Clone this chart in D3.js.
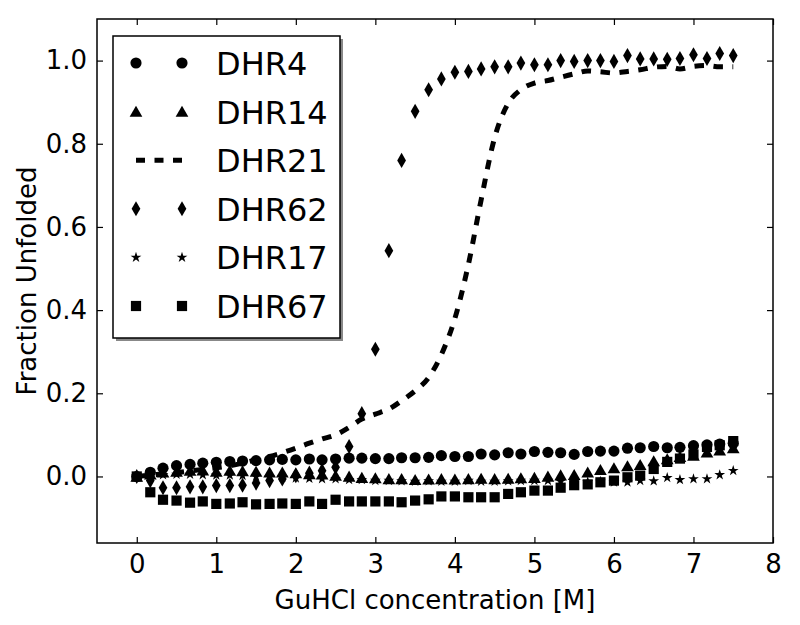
<!DOCTYPE html>
<html><head><meta charset="utf-8">
<script src="https://cdn.jsdelivr.net/npm/d3@7"></script>
<style>body{margin:0;background:#fff;} text{font-family:"DejaVu Sans",sans-serif;}</style>
</head><body>
<svg id="c" width="800" height="625"></svg>
<script>
const conc = [0,0.17,0.33,0.5,0.67,0.83,1,1.17,1.33,1.5,1.67,1.83,2,2.17,2.33,2.5,2.67,2.83,3,3.17,3.33,3.5,3.67,3.83,4,4.17,4.33,4.5,4.67,4.83,5,5.17,5.33,5.5,5.67,5.83,6,6.17,6.33,6.5,6.67,6.83,7,7.17,7.33,7.5];
const dhr4 = [0,0.01,0.02,0.026,0.029,0.032,0.034,0.036,0.037,0.038,0.04,0.041,0.04,0.042,0.04,0.042,0.044,0.044,0.043,0.043,0.045,0.045,0.046,0.05,0.048,0.048,0.054,0.052,0.057,0.054,0.06,0.058,0.057,0.053,0.06,0.061,0.061,0.068,0.069,0.072,0.069,0.07,0.074,0.076,0.078,0.08];
const dhr14 = [0,0.005,0.01,0.012,0.014,0.015,0.012,0.014,0.013,0.012,0.01,0.01,0.008,0.006,0.005,0.002,0,-0.003,-0.004,-0.006,-0.006,-0.008,-0.007,-0.006,-0.007,-0.006,-0.005,-0.006,-0.005,-0.004,-0.003,0,0.003,0.004,0.01,0.016,0.02,0.025,0.028,0.037,0.042,0.047,0.05,0.058,0.063,0.068];
const dhr21 = [0,0.003,0.006,0.009,0.013,0.017,0.021,0.026,0.032,0.04,0.048,0.057,0.068,0.08,0.09,0.1,0.118,0.138,0.15,0.162,0.182,0.206,0.238,0.293,0.38,0.51,0.665,0.815,0.897,0.93,0.946,0.952,0.96,0.968,0.975,0.973,0.97,0.974,0.978,0.984,0.986,0.98,0.986,0.988,0.985,0.985];
const dhr62 = [0,-0.01,-0.027,-0.027,-0.025,-0.025,-0.022,-0.022,-0.021,-0.016,-0.01,-0.006,0.002,0.008,0.014,0.022,0.072,0.151,0.306,0.543,0.76,0.878,0.93,0.956,0.972,0.974,0.98,0.985,0.985,0.994,0.99,0.99,1.0,0.998,1.0,1.0,0.998,1.012,1.004,1.004,1.003,1.005,1.014,1.005,1.017,1.012];
const dhr17 = [0,0.002,0.004,0.005,0.005,0.004,0.003,0.003,0.002,0,-0.001,-0.002,-0.004,-0.005,-0.006,-0.006,-0.008,-0.008,-0.01,-0.01,-0.011,-0.012,-0.011,-0.012,-0.012,-0.01,-0.012,-0.012,-0.011,-0.01,-0.01,-0.01,-0.012,-0.012,-0.013,-0.012,-0.014,-0.014,-0.01,-0.011,-0.003,-0.008,-0.006,-0.006,0.004,0.014];
const dhr67 = [0,-0.038,-0.056,-0.058,-0.063,-0.06,-0.066,-0.065,-0.062,-0.067,-0.066,-0.065,-0.066,-0.06,-0.066,-0.056,-0.06,-0.06,-0.06,-0.06,-0.062,-0.058,-0.055,-0.048,-0.048,-0.05,-0.05,-0.05,-0.042,-0.038,-0.034,-0.034,-0.027,-0.021,-0.019,-0.014,-0.01,-0.002,0.002,0.018,0.035,0.043,0.053,0.071,0.075,0.085];
const xTicks = [0,1,2,3,4,5,6,7,8];
const yTicks = [0,0.2,0.4,0.6,0.8,1.0];
const seriesNames = ["DHR4","DHR14","DHR21","DHR62","DHR17","DHR67"];

const svg = d3.select("#c");
const L=97,R=773,T=19,B=543;
const x = d3.scaleLinear().domain([-0.5,8]).range([L,R]);
const y = d3.scaleLinear().domain([-0.16,1.1]).range([B,T]);

const syms = {
  DHR4: d3.symbol().type(d3.symbolCircle).size(98),
  DHR14: d3.symbol().type(d3.symbolTriangle).size(70),
  DHR62: d3.symbol().type(d3.symbolDiamond).size(66),
  DHR17: d3.symbol().type(d3.symbolStar).size(36),
  DHR67: d3.symbol().type(d3.symbolSquare).size(104)
};
const data = {DHR4:dhr4,DHR14:dhr14,DHR21:dhr21,DHR62:dhr62,DHR17:dhr17,DHR67:dhr67};

const plot = svg.append("g");
seriesNames.forEach(name=>{
  const vals = data[name];
  if(name==="DHR21"){
    plot.append("path").datum(vals)
      .attr("d", d3.line().curve(d3.curveMonotoneX).x((d,i)=>x(conc[i])).y(d=>y(d)))
      .attr("fill","none").attr("stroke","#000").attr("stroke-width",5)
      .attr("stroke-dasharray","9.5,9.5");
  } else {
    const off = name==="DHR14" ? 1.5 : 0;
    plot.selectAll(null).data(vals).enter().append("path")
      .attr("d", syms[name]())
      .attr("transform",(d,i)=>`translate(${x(conc[i])},${y(d)+off})`)
      .attr("fill","#000");
  }
});

// frame
svg.append("rect").attr("x",L).attr("y",T).attr("width",R-L).attr("height",B-T)
  .attr("fill","none").attr("stroke","#000").attr("stroke-width",1.5);

// axes (inside ticks)
const fs = 26;
const xb = svg.append("g").attr("transform",`translate(0,${B})`)
  .call(d3.axisBottom(x).tickValues(xTicks).tickSize(-6).tickPadding(12).tickFormat(d3.format("d")));
const xt = svg.append("g").attr("transform",`translate(0,${T})`)
  .call(d3.axisTop(x).tickValues(xTicks).tickSize(-6).tickFormat(""));
const yl = svg.append("g").attr("transform",`translate(${L},0)`)
  .call(d3.axisLeft(y).tickValues(yTicks).tickSize(-6).tickPadding(10).tickFormat(d3.format(".1f")));
const yr = svg.append("g").attr("transform",`translate(${R},0)`)
  .call(d3.axisRight(y).tickValues(yTicks).tickSize(-6).tickFormat(""));
[xb,xt,yl,yr].forEach(g=>{
  g.select(".domain").remove();
  g.selectAll(".tick line").attr("stroke","#000").attr("stroke-width",1.2);
  g.selectAll("text").attr("font-family","DejaVu Sans").attr("font-size",fs).attr("fill","#000");
});

svg.append("text").attr("x",(L+R)/2).attr("y",609).attr("text-anchor","middle")
  .attr("font-size",fs).text("GuHCl concentration [M]");
svg.append("text").attr("transform",`translate(36,${(T+B)/2}) rotate(-90)`).attr("text-anchor","middle")
  .attr("font-size",fs).text("Fraction Unfolded");

// legend
const lg = svg.append("g");
lg.append("rect").attr("x",116).attr("y",39).attr("width",227).attr("height",302).attr("fill","#888");
lg.append("rect").attr("x",113).attr("y",36).attr("width",227).attr("height",302)
  .attr("fill","#fff").attr("stroke","#000").attr("stroke-width",1.5);
seriesNames.forEach((name,k)=>{
  const cy = 63 + k*48.6;
  if(name==="DHR21"){
    lg.append("line").attr("x1",136).attr("x2",182).attr("y1",cy).attr("y2",cy)
      .attr("stroke","#000").attr("stroke-width",5).attr("stroke-dasharray","9,9.5");
  } else {
    const off = name==="DHR14" ? 1.5 : 0;
    [136,182].forEach(mx=>{
      lg.append("path").attr("d",syms[name]()).attr("transform",`translate(${mx},${cy+off})`).attr("fill","#000");
    });
  }
  lg.append("text").attr("x",216).attr("y",cy+12).attr("font-size",32).text(name);
});
</script>
</body></html>
